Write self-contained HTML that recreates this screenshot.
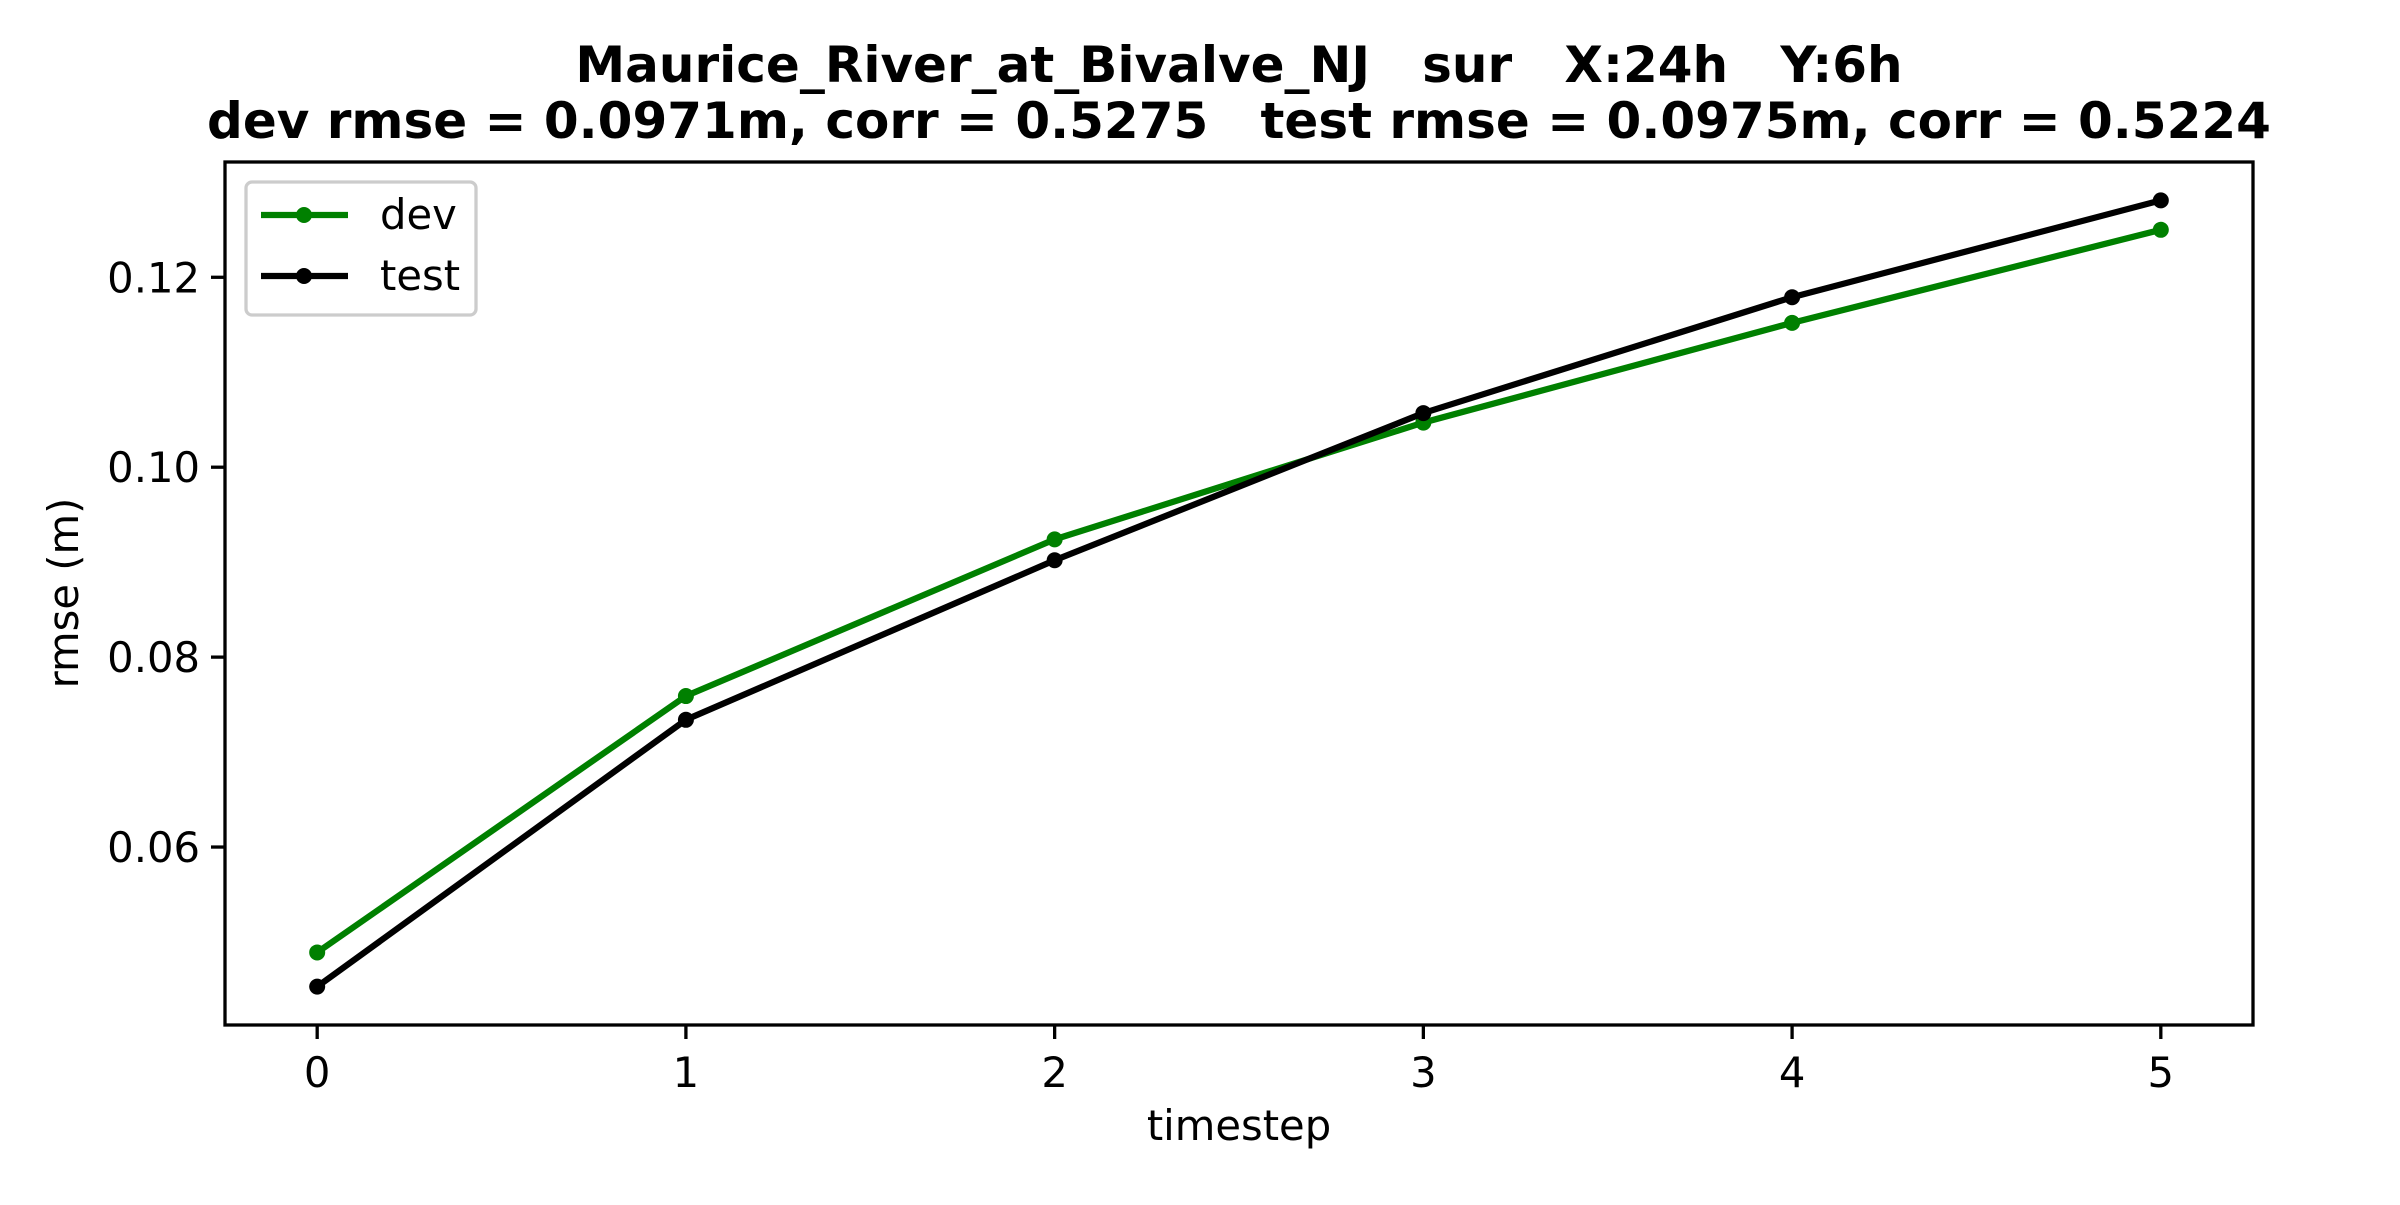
<!DOCTYPE html>
<html><head><meta charset="utf-8"><style>
html,body{margin:0;padding:0;background:#fff;}
svg text{font-family:"DejaVu Sans","Liberation Sans",sans-serif;}
</style></head><body>
<svg id="chart" width="2400" height="1200" viewBox="0 0 2400 1200" xmlns="http://www.w3.org/2000/svg">
<rect width="2400" height="1200" fill="#fff"/>
<text x="1239" y="82" font-size="50" font-weight="bold" text-anchor="middle" xml:space="preserve">Maurice_River_at_Bivalve_NJ   sur   X:24h   Y:6h</text>
<text x="1239" y="138" font-size="50" font-weight="bold" text-anchor="middle" xml:space="preserve">dev rmse = 0.0971m, corr = 0.5275   test rmse = 0.0975m, corr = 0.5224</text>
<g id="plot"></g>
<text x="1239" y="1140" font-size="41.7" text-anchor="middle">timestep</text>
<text transform="translate(78,593) rotate(-90)" font-size="41.7" text-anchor="middle">rmse (m)</text>
</svg>
<script>
const categories=[0,1,2,3,4,5];
const devValues=[0.0489,0.0759,0.0924,0.1047,0.1152,0.1250];
const testValues=[0.0453,0.0734,0.0902,0.1057,0.1179,0.1281];
const yTicks=[0.06,0.08,0.10,0.12];
const yTickLabels=["0.06","0.08","0.10","0.12"];
const xTickLabels=["0","1","2","3","4","5"];

const L=225,R=2253,T=162,B=1025;
const xMin=-0.25,xMax=5.25,yMin=0.04126,yMax=0.13214;
const sx=v=>L+(v-xMin)/(xMax-xMin)*(R-L);
const sy=v=>B-(v-yMin)/(yMax-yMin)*(B-T);
const NS="http://www.w3.org/2000/svg";
const g=document.getElementById('plot');
function mk(tag,attrs,parent){const e=document.createElementNS(NS,tag);for(const k in attrs)e.setAttribute(k,attrs[k]);(parent||g).appendChild(e);return e;}

categories.forEach((c,i)=>{
  const x=sx(c);
  const t=mk('line',{x1:x,x2:x,y1:B,y2:B+14,stroke:'#000','stroke-width':3.3});
  
  
  const l=mk('text',{x:x,y:B+62,'font-size':41.7,'text-anchor':'middle'});
  l.textContent=xTickLabels[i];
  
  
});
yTicks.forEach((v,i)=>{
  const y=sy(v);
  const t=mk('line',{x1:L-14,x2:L,y1:y,y2:y,stroke:'#000','stroke-width':3.3});
  
  
  const l=mk('text',{x:L-25,y:y+15,'font-size':41.7,'text-anchor':'end'});
  l.textContent=yTickLabels[i];
  
  
});

function series(vals,color,name){
  const pts=categories.map((c,i)=>sx(c)+','+sy(vals[i])).join(' ');
  const p=mk('polyline',{points:pts,fill:'none',stroke:color,'stroke-width':6.25,'stroke-linejoin':'round','stroke-linecap':'square'});
  
  
  categories.forEach((c,i)=>{
    const m=mk('circle',{cx:sx(c),cy:sy(vals[i]),r:8,fill:color});
    
    
  });
}
series(devValues,'#008000','dev');
series(testValues,'#000000','test');

const frame=mk('rect',{x:L,y:T,width:R-L,height:B-T,fill:'none',stroke:'#000','stroke-width':3.3});



const lg=mk('g',{});


mk('rect',{x:246,y:182,width:230,height:133,rx:6,fill:'#fff','fill-opacity':0.8,stroke:'#ccc','stroke-width':3.3},lg);
[['dev','#008000',215],['test','#000',276]].forEach(([n,c,y])=>{
  const e=mk('g',{},lg);
  
  
  mk('line',{x1:261,x2:348,y1:y,y2:y,stroke:c,'stroke-width':6.25},e);
  mk('circle',{cx:304,cy:y,r:8,fill:c},e);
  const t=mk('text',{x:380,y:y+14,'font-size':41.7},e);
  t.textContent=n;
});
</script>
</body></html>
